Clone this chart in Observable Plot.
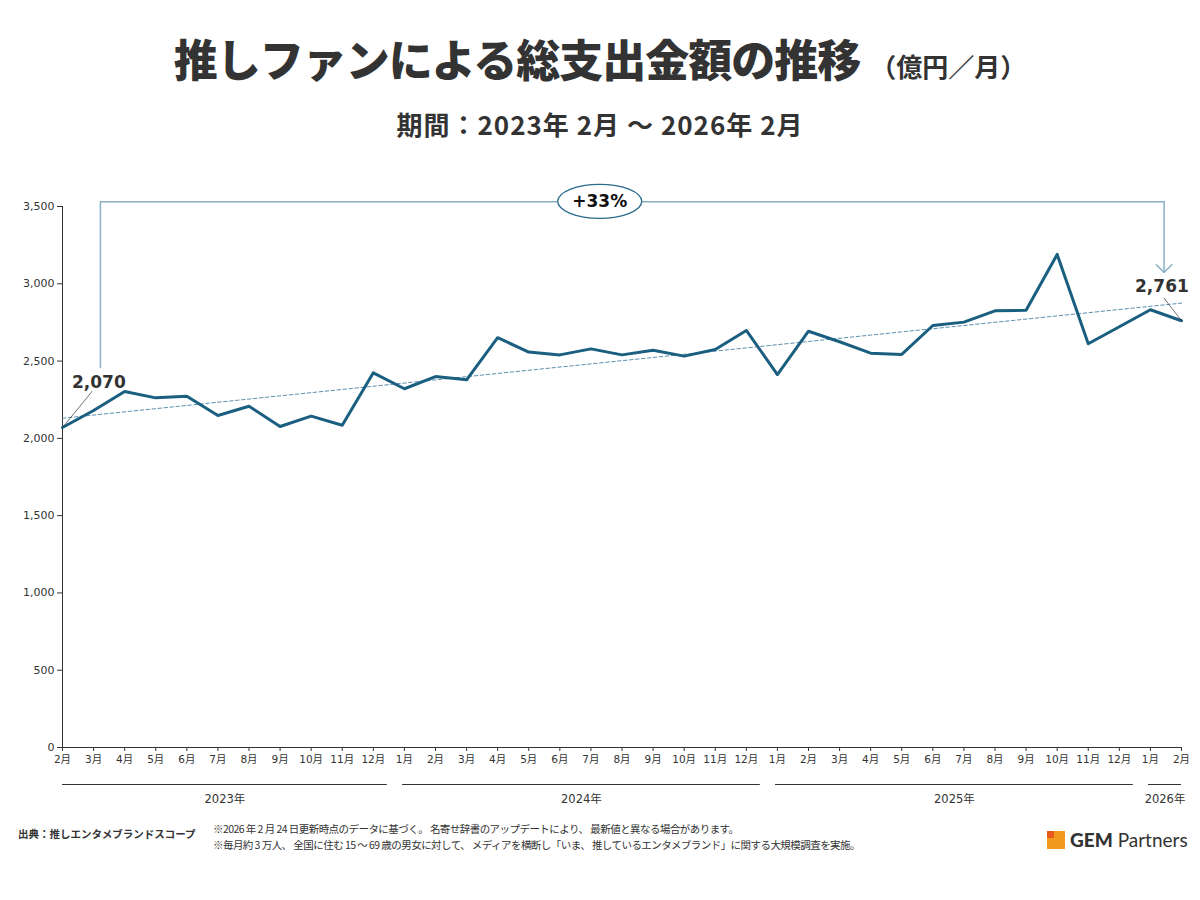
<!DOCTYPE html>
<html><head><meta charset="utf-8">
<script src="https://cdn.jsdelivr.net/npm/d3@7"></script>
<script src="https://cdn.jsdelivr.net/npm/@observablehq/plot@0.6"></script>
<style>
body{margin:0;background:#fff;}
#page{position:relative;width:1200px;height:900px;overflow:hidden;font-family:"Noto Sans CJK JP",sans-serif;color:#333;}
#title{position:absolute;top:27px;left:0;width:1200px;text-align:center;font-weight:900;font-size:44px;line-height:62px;color:#333;letter-spacing:-1px;white-space:nowrap}
#title .unit{font-size:26px;margin-left:10px;letter-spacing:0;font-weight:700}
#subtitle{position:absolute;top:105px;left:0;width:1200px;text-align:center;font-weight:700;font-size:26px;line-height:38px;color:#333;white-space:nowrap;letter-spacing:1px}
#chart{position:absolute;top:160px;left:0}
#source{position:absolute;left:18px;top:826px;font-size:10.5px;font-weight:700;line-height:16px;white-space:nowrap}
#notes{position:absolute;left:213px;top:821px;font-size:10.5px;line-height:16px;white-space:nowrap;letter-spacing:-0.55px}
#logo{position:absolute;left:1047px;top:829px;height:22px;white-space:nowrap}
#logo .sq{position:absolute;left:0;top:2px;width:18px;height:18px;background:#f39a1e}
#logo .sq2{position:absolute;left:0;top:2px;width:7px;height:7px;background:#e85a1c}
#logo .txt{position:absolute;left:23px;top:-2px;font-family:Lato,"Open Sans",sans-serif;font-size:19px;color:#333;line-height:26px}
#logo .txt b{font-weight:900}
</style></head>
<body>
<div id="page">
  <div id="title">推しファンによる総支出金額の推移<span class="unit">（億円／月）</span></div>
  <div id="subtitle">期間：2023年 2月 ～ 2026年 2月</div>
  <div id="chart"></div>
  <div id="source">出典：推しエンタメブランドスコープ</div>
  <div id="notes">※2026 年 2 月 24 日更新時点のデータに基づく。 名寄せ辞書のアップデートにより、 最新値と異なる場合があります。<br>※毎月約 3 万人、 全国に住む 15 ～ 69 歳の男女に対して、 メディアを横断し「いま、 推しているエンタメブランド」に関する大規模調査を実施。</div>
  <div id="logo"><div class="sq"></div><div class="sq2"></div><div class="txt"><b>GEM</b> Partners</div></div>
</div>
<script>
// ---- data ----
const monthLabels = ["2月","3月","4月","5月","6月","7月","8月","9月","10月","11月","12月",
  "1月","2月","3月","4月","5月","6月","7月","8月","9月","10月","11月","12月",
  "1月","2月","3月","4月","5月","6月","7月","8月","9月","10月","11月","12月",
  "1月","2月"];
const values = [2070,2180,2303,2262,2273,2148,2208,2077,2144,2085,2424,
  2321,2400,2379,2651,2558,2540,2579,2540,2570,2532,2575,2698,
  2413,2693,2625,2551,2543,2730,2752,2825,2829,3190,2612,2722,
  2832,2761];
const yearLabels = ["2023年","2024年","2025年","2026年"];
const monthsPerYear = [11,12,12,2];
const yTicks = [0,500,1000,1500,2000,2500,3000,3500];
const changeLabel = "+33%";

// annotation anchors (in data units)
const bracketPts = [{x:1.22,y:2458},{x:1.22,y:3530},{x:35.44,y:3530}];
const arrowSeg = [{x1:35.44,y1:3530,x2:35.44,y2:3073}];
const valueLabels = [{x:1.17,y:2363,text:"2,070"},{x:35.37,y:2982,text:"2,761"}];
const leaders = [{x1:0,y1:2070,x2:0.955,y2:2305},{x1:35.43,y1:2909,x2:36,y2:2761}];
const badge = {x:17.3, y:3530};

// ---- derived tables ----
const data = values.map((v,i)=>({i, v, m: monthLabels[i]}));
const spans = [];
{ let start = 0;
  yearLabels.forEach((label,k)=>{
    const first = start, last = start + monthsPerYear[k] - 1;
    spans.push({label, x1: Math.max(0, first - 0.06), x2: Math.min(values.length-1, last + 0.45)});
    start = last + 1;
  });
}
const N = values.length - 1;
const DARK = "#1b5f80";
const LIGHT = "#87afc5";
const FONT = '"DejaVu Sans","Noto Sans CJK JP",sans-serif';

const plot = Plot.plot({
  width:1200, height:660,
  marginTop:46, marginBottom:73, marginLeft:62, marginRight:19,
  style:{fontFamily:FONT, fontSize:"10.5px", color:"#333", overflow:"visible", background:"#fff"},
  x:{type:"linear", domain:[0,N]},
  y:{domain:[0,3500]},
  marks:[
    Plot.axisY({ticks:yTicks, tickFormat:d3.format(","), tickSize:5, tickPadding:3, label:null, fontSize:11, stroke:"#333"}),
    Plot.axisX({ticks:data.map(d=>d.i), tickFormat:i=>monthLabels[i], tickSize:4, tickPadding:4, label:null, fontSize:10.5, fontFamily:FONT, stroke:"#333"}),
    Plot.ruleX([0], {y1:0, y2:3500, stroke:"#333", strokeWidth:1}),
    Plot.ruleY([0], {x1:0, x2:N, stroke:"#333", strokeWidth:1}),
    Plot.ruleY(spans, {x1:"x1", x2:"x2", y:()=>0, dy:37, stroke:"#333", strokeWidth:1}),
    Plot.text(spans, {x:d=>(d.x1+d.x2)/2, y:()=>0, dy:52, text:"label", fontSize:11.5, lineAnchor:"middle", fill:"#333", fontFamily:FONT}),
    Plot.linearRegressionY(data, {x:"i", y:"v", ci:0, stroke:"#5b90b0", strokeWidth:1, strokeDasharray:"3.5,2.5"}),
    Plot.line(data, {x:"i", y:"v", stroke:DARK, strokeWidth:3}),
    Plot.line(bracketPts, {x:"x", y:"y", stroke:LIGHT, strokeWidth:1.5}),
    Plot.arrow(arrowSeg, {x1:"x1", y1:"y1", x2:"x2", y2:"y2", stroke:LIGHT, strokeWidth:1.5, headLength:11, headAngle:90}),
    Plot.link(leaders, {x1:"x1", y1:"y1", x2:"x2", y2:"y2", stroke:"#333", strokeWidth:0.7}),
    Plot.text(valueLabels, {x:"x", y:"y", text:"text", fontSize:17, fontWeight:700, fill:"#333", lineAnchor:"middle", fontFamily:'"DejaVu Sans",sans-serif'})
  ]
});
document.getElementById("chart").appendChild(plot);

// badge ellipse on the bracket, positioned through the plot's scales
const sx = plot.scale("x"), sy = plot.scale("y");
const svg = d3.select(plot.tagName.toLowerCase()==="svg" ? plot : plot.querySelector("svg"));
const cx = sx.apply(badge.x), cy = sy.apply(badge.y);
const g = svg.append("g");
g.append("ellipse").attr("cx",cx).attr("cy",cy).attr("rx",42).attr("ry",17)
  .attr("fill","#fff").attr("stroke","#2a6a8a").attr("stroke-width",1.3);
g.append("text").attr("x",cx).attr("y",cy).attr("dy","0.36em").attr("text-anchor","middle")
  .attr("font-family",'"DejaVu Sans",sans-serif').attr("font-weight",700).attr("font-size",17)
  .attr("fill","#111").text(changeLabel);
</script>
</body></html>
